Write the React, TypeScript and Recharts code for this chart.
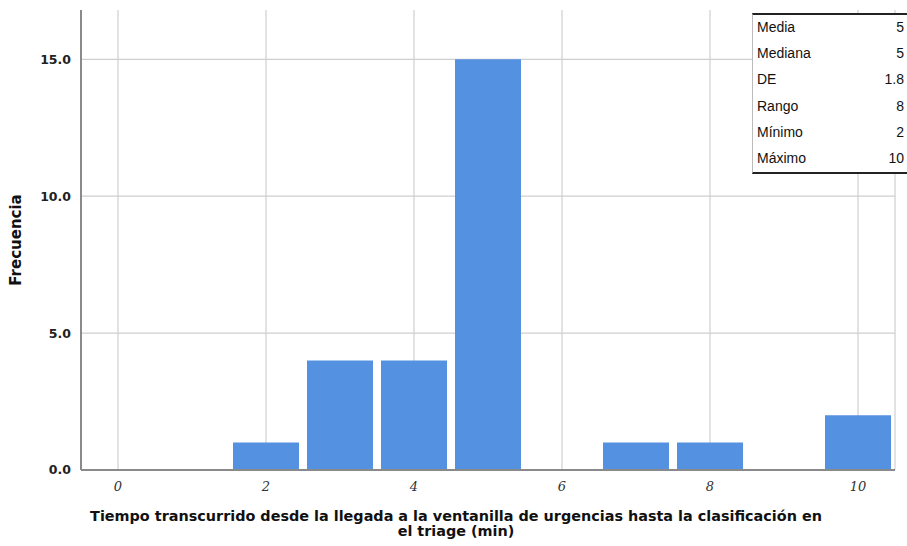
import React from 'react'
import { BarChart, Bar, XAxis, YAxis, CartesianGrid, Label } from 'recharts'

// minutes from arrival to triage (one bin per minute) and how many patients fell in each
const minutes = [0, 1, 2, 3, 4, 5, 6, 7, 8, 9, 10]
const frequency = [0, 0, 1, 4, 4, 15, 0, 1, 1, 0, 2]
const xTicks = [0, 2, 4, 6, 8, 10]
const yTicks = [0, 5, 10, 15]

const statLabels = ['Media', 'Mediana', 'DE', 'Rango', 'Mínimo', 'Máximo']
const statValues = ['5', '5', '1.8', '8', '2', '10']

const data = minutes.map((m, i) => ({ min: m, count: frequency[i] }))

const W = 907
const H = 546

export default function App() {
  return (
    <div style={{ position: 'absolute', left: 0, top: 0, width: W, height: H, background: '#fff' }}>
      <BarChart
        width={W}
        height={H}
        data={data}
        margin={{ top: 10, right: 12, bottom: 46, left: 0 }}
        barCategoryGap={4}
      >
        <CartesianGrid
          xAxisId="num"
          stroke="#cfcfcf"
          strokeWidth={1.2}
          horizontalValues={[5, 10, 15]}
        />
        {/* bins live on a band axis, labels and grid come from a numeric axis over the same span */}
        <XAxis xAxisId="cat" dataKey="min" hide height={0} />
        <XAxis
          xAxisId="num"
          type="number"
          dataKey="min"
          domain={[-0.5, 10.5]}
          ticks={xTicks}
          height={30}
          tickLine={false}
          axisLine={{ stroke: '#8a8a8a', strokeWidth: 2 }}
          tick={{ fill: '#333', fontSize: 13, fontStyle: 'italic', fontFamily: 'DejaVu Serif' }}
          tickMargin={6}
        />
        <YAxis
          width={81}
          domain={[0, 16.8]}
          ticks={yTicks}
          tickFormatter={(v: number) => v.toFixed(1)}
          tickLine={false}
          axisLine={{ stroke: '#8a8a8a', strokeWidth: 2 }}
          tick={{ fill: '#222', fontSize: 12.5, fontWeight: 'bold', fontFamily: 'DejaVu Sans' }}
          tickMargin={4}
        >
          <Label
            value="Frecuencia"
            angle={-90}
            position="insideLeft"
            offset={16}
            style={{ fill: '#111', fontSize: 15, fontWeight: 'bold', fontFamily: 'DejaVu Sans', textAnchor: 'middle' }}
          />
        </YAxis>
        <Bar xAxisId="cat" dataKey="count" fill="#5591e1" isAnimationActive={false} />
      </BarChart>

      <div
        style={{
          position: 'absolute',
          left: 752,
          top: 13,
          width: 155,
          background: '#fff',
          borderTop: '2px solid #222',
          borderBottom: '2px solid #222',
          borderLeft: '1px solid #bbb',
          fontFamily: 'Liberation Sans, Arial, sans-serif',
          fontSize: 14,
          color: '#111',
        }}
      >
        {statLabels.map((label, i) => (
          <div
            key={label}
            style={{ display: 'flex', justifyContent: 'space-between', height: 26.2, lineHeight: '25px', padding: '0 4px 0 4px' }}
          >
            <span>{label}</span>
            <span>{statValues[i]}</span>
          </div>
        ))}
      </div>

      <div
        style={{
          position: 'absolute',
          left: 0,
          width: 912,
          top: 509,
          textAlign: 'center',
          fontFamily: 'DejaVu Sans',
          fontWeight: 'bold',
          fontSize: 14.4,
          lineHeight: '15px',
          color: '#111',
        }}
      >
        Tiempo transcurrido desde la llegada a la ventanilla de urgencias hasta la clasificación en
        <br />
        el triage (min)
      </div>
    </div>
  )
}
